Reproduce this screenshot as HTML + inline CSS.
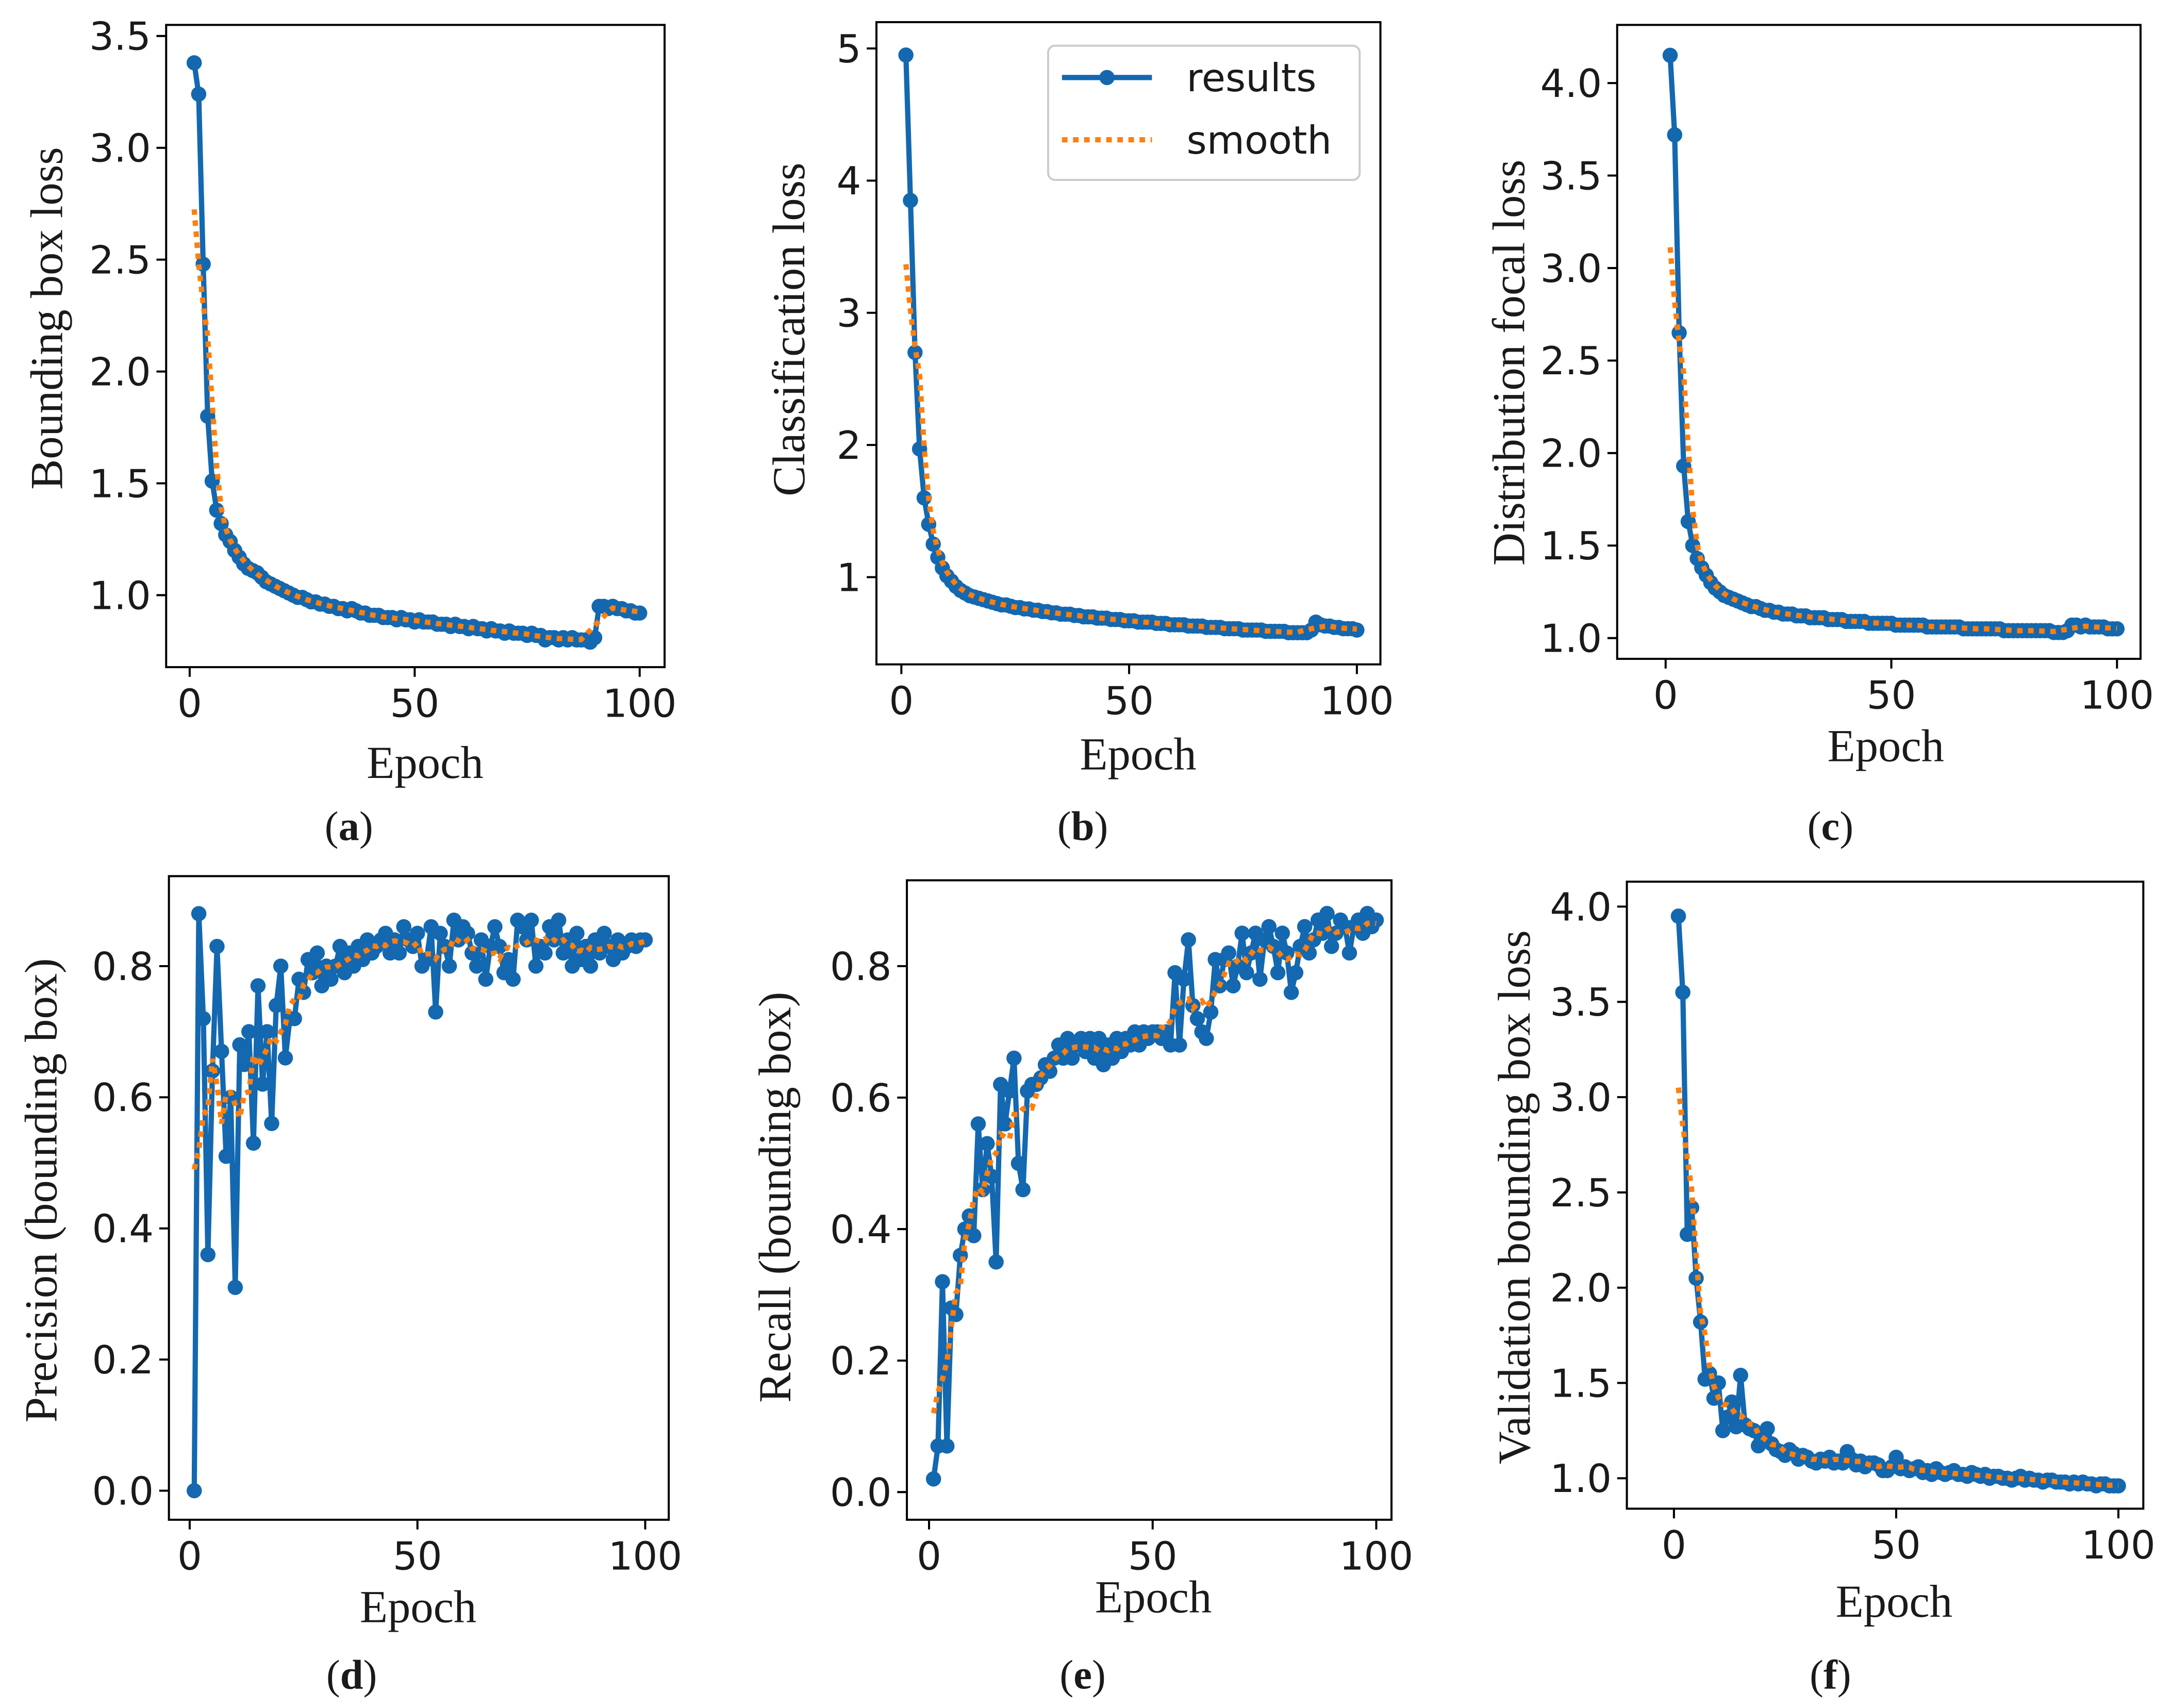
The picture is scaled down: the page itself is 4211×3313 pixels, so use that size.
<!DOCTYPE html>
<html><head><meta charset="utf-8"><style>
html,body{margin:0;padding:0;background:#fff}
svg{display:block}
.tk{font-family:"DejaVu Sans","Liberation Sans",sans-serif;font-size:28px;fill:#1a1a1a}
.al{font-family:"Liberation Serif",serif;font-size:33px;fill:#1a1a1a}
.cap{font-family:"Liberation Serif",serif;font-size:30px;fill:#1a1a1a}
</style></head><body>
<svg id="fig" width="4211" height="3313" viewBox="0 0 1568 1234" preserveAspectRatio="none" xmlns="http://www.w3.org/2000/svg"></svg>
<script>
const epochTicks=[0,50,100];
const boxLoss=[3.38,3.24,2.48,1.80,1.51,1.38,1.32,1.27,1.24,1.20,1.17,1.14,1.12,1.11,1.10,1.08,1.06,1.05,1.04,1.03,1.02,1.01,1.00,0.99,0.99,0.98,0.97,0.97,0.96,0.96,0.95,0.95,0.94,0.94,0.93,0.94,0.93,0.92,0.92,0.91,0.91,0.91,0.90,0.90,0.90,0.89,0.90,0.89,0.89,0.88,0.89,0.88,0.88,0.88,0.87,0.87,0.87,0.86,0.87,0.86,0.86,0.85,0.86,0.85,0.85,0.84,0.85,0.84,0.84,0.83,0.84,0.83,0.83,0.83,0.82,0.83,0.82,0.82,0.80,0.81,0.81,0.80,0.81,0.80,0.81,0.80,0.80,0.80,0.79,0.81,0.95,0.95,0.94,0.95,0.94,0.94,0.93,0.93,0.92,0.92];
const clsLoss=[4.95,3.85,2.70,1.97,1.60,1.40,1.25,1.15,1.07,1.01,0.97,0.93,0.90,0.88,0.86,0.85,0.84,0.83,0.82,0.81,0.80,0.79,0.79,0.78,0.77,0.77,0.76,0.76,0.75,0.75,0.74,0.74,0.73,0.73,0.72,0.72,0.72,0.71,0.71,0.70,0.70,0.70,0.69,0.69,0.69,0.68,0.68,0.68,0.67,0.67,0.67,0.66,0.66,0.66,0.66,0.65,0.65,0.65,0.64,0.64,0.64,0.64,0.63,0.63,0.63,0.63,0.62,0.62,0.62,0.62,0.61,0.61,0.61,0.61,0.60,0.60,0.60,0.60,0.60,0.59,0.59,0.59,0.59,0.59,0.58,0.58,0.58,0.58,0.58,0.60,0.66,0.64,0.63,0.63,0.62,0.62,0.61,0.61,0.61,0.60];
const dflLoss=[4.15,3.72,2.65,1.93,1.63,1.50,1.43,1.38,1.34,1.30,1.27,1.25,1.23,1.22,1.21,1.20,1.19,1.18,1.17,1.17,1.16,1.15,1.15,1.14,1.14,1.13,1.13,1.13,1.12,1.12,1.12,1.11,1.11,1.11,1.11,1.10,1.10,1.10,1.10,1.09,1.09,1.09,1.09,1.09,1.08,1.08,1.08,1.08,1.08,1.08,1.07,1.07,1.07,1.07,1.07,1.07,1.07,1.06,1.06,1.06,1.06,1.06,1.06,1.06,1.06,1.05,1.05,1.05,1.05,1.05,1.05,1.05,1.05,1.05,1.04,1.04,1.04,1.04,1.04,1.04,1.04,1.04,1.04,1.04,1.04,1.03,1.03,1.03,1.04,1.07,1.07,1.06,1.07,1.06,1.06,1.06,1.06,1.05,1.05,1.05];
const precision=[0.00,0.88,0.72,0.36,0.64,0.83,0.67,0.51,0.60,0.31,0.68,0.65,0.70,0.53,0.77,0.62,0.70,0.56,0.74,0.80,0.66,0.72,0.72,0.78,0.76,0.81,0.79,0.82,0.77,0.80,0.78,0.80,0.83,0.79,0.82,0.80,0.83,0.81,0.84,0.82,0.83,0.84,0.85,0.82,0.84,0.82,0.86,0.84,0.83,0.85,0.80,0.81,0.86,0.73,0.85,0.83,0.80,0.87,0.84,0.86,0.85,0.82,0.80,0.84,0.78,0.83,0.86,0.83,0.79,0.81,0.78,0.87,0.86,0.84,0.87,0.80,0.83,0.82,0.86,0.84,0.87,0.82,0.84,0.80,0.85,0.81,0.83,0.80,0.84,0.82,0.85,0.83,0.81,0.84,0.82,0.83,0.84,0.83,0.84,0.84];
const recall=[0.02,0.07,0.32,0.07,0.28,0.27,0.36,0.40,0.42,0.39,0.56,0.46,0.53,0.48,0.35,0.62,0.56,0.61,0.66,0.50,0.46,0.61,0.62,0.62,0.63,0.65,0.64,0.66,0.68,0.66,0.69,0.66,0.68,0.69,0.67,0.69,0.66,0.69,0.65,0.68,0.66,0.69,0.67,0.69,0.68,0.70,0.68,0.70,0.69,0.70,0.70,0.69,0.70,0.68,0.79,0.68,0.78,0.84,0.74,0.72,0.70,0.69,0.73,0.81,0.77,0.81,0.82,0.77,0.80,0.85,0.79,0.82,0.85,0.78,0.84,0.86,0.83,0.79,0.85,0.82,0.76,0.79,0.83,0.86,0.82,0.84,0.87,0.85,0.88,0.83,0.85,0.87,0.86,0.82,0.86,0.87,0.85,0.88,0.86,0.87];
const valBoxLoss=[3.95,3.55,2.28,2.42,2.05,1.82,1.52,1.55,1.42,1.50,1.25,1.32,1.40,1.27,1.54,1.28,1.26,1.25,1.17,1.22,1.26,1.18,1.15,1.14,1.12,1.15,1.13,1.10,1.12,1.11,1.09,1.08,1.10,1.09,1.11,1.08,1.09,1.08,1.14,1.10,1.07,1.09,1.06,1.08,1.08,1.07,1.04,1.04,1.06,1.11,1.05,1.06,1.04,1.05,1.06,1.03,1.04,1.02,1.05,1.03,1.02,1.03,1.04,1.02,1.02,1.01,1.03,1.02,1.01,1.02,1.00,1.01,1.01,1.00,1.00,0.99,1.00,1.01,0.99,1.00,0.99,0.99,0.98,0.99,0.99,0.98,0.98,0.98,0.97,0.98,0.97,0.98,0.97,0.97,0.96,0.97,0.97,0.96,0.96,0.96];
const ticksA=[1.0,1.5,2.0,2.5,3.0,3.5];
const ticksB=[1,2,3,4,5];
const ticksC=[1.0,1.5,2.0,2.5,3.0,3.5,4.0];
const ticksPR=[0.0,0.2,0.4,0.6,0.8];
const ticksF=[1.0,1.5,2.0,2.5,3.0,3.5,4.0];

const NS="http://www.w3.org/2000/svg";
const svg=document.getElementById('fig');
function mk(tag,attrs,parent){const e=document.createElementNS(NS,tag);for(const k in attrs)e.setAttribute(k,attrs[k]);(parent||svg).appendChild(e);return e;}
function smooth(y){const n=y.length,out=[];for(let i=0;i<n;i++){let s=0,c=0;for(let j=i-3;j<=i+3;j++){if(j>=0&&j<n){s+=y[j];c++;}}out.push(s/c);}return out;}

const panels=[
 {id:'a',data:boxLoss,ticks:ticksA,fmt:1,box:[120,18,480,482],x0:137,x100:462,yv:[1.0,3.5],yp:[430,26],ylab:'Bounding box loss',ylx:34,yly:230,elx:307,ely:562,cx:252,cy:607},
 {id:'b',data:clsLoss,ticks:ticksB,fmt:0,box:[633,16,997,480],x0:651,x100:980,yv:[1,5],yp:[417,35],ylab:'Classification loss',ylx:570,yly:238,elx:822,ely:556,cx:782,cy:607,legend:true},
 {id:'c',data:dflLoss,ticks:ticksC,fmt:1,box:[1168,18,1546,476],x0:1203,x100:1529,yv:[1.0,4.0],yp:[461,60],ylab:'Distribution focal loss',ylx:1090,yly:262,elx:1362,ely:550,cx:1322,cy:607},
 {id:'d',data:precision,ticks:ticksPR,fmt:1,box:[122,633,483,1098],x0:137,x100:466,yv:[0,0.8],yp:[1077,698],ylab:'Precision (bounding box)',ylx:30,yly:860,elx:302,ely:1172,cx:254,cy:1220},
 {id:'e',data:recall,ticks:ticksPR,fmt:1,box:[655,636,1005,1098],x0:671,x100:994,yv:[0,0.8],yp:[1078,698],ylab:'Recall (bounding box)',ylx:560,yly:865,elx:833,ely:1165,cx:782,cy:1220},
 {id:'f',data:valBoxLoss,ticks:ticksF,fmt:1,box:[1175,637,1548,1090],x0:1209,x100:1530,yv:[1.0,4.0],yp:[1068,655],ylab:'Validation bounding box loss',ylx:1094,yly:865,elx:1368,ely:1168,cx:1322,cy:1220}
];
const BLUE='#1368b0',ORANGE='#ff7f0e';
panels.forEach(p=>{
 const g=mk('g',{});
 
 
 const xs=v=>p.x0+(p.x100-p.x0)*v/100;
 const ys=v=>p.yp[0]+(p.yp[1]-p.yp[0])*(v-p.yv[0])/(p.yv[1]-p.yv[0]);
 const [L,T,R,B]=p.box;
 epochTicks.forEach(t=>{
  const x=xs(t);
  const l=mk('line',{x1:x,y1:B,x2:x,y2:B+7,stroke:'#000','stroke-width':1.5},g);
  
  
  const tx=mk('text',{x:x,y:B+36,'text-anchor':'middle',class:'tk'},g);tx.textContent=t;
  
  
 });
 p.ticks.forEach(t=>{
  const y=ys(t);
  const l=mk('line',{x1:L-7,y1:y,x2:L,y2:y,stroke:'#000','stroke-width':1.5},g);
  
  
  const tx=mk('text',{x:L-11,y:y+10,'text-anchor':'end',class:'tk'},g);tx.textContent=t.toFixed(p.fmt);
  
  
 });
 const ptsR=p.data.map((v,i)=>xs(i+1).toFixed(2)+','+ys(v).toFixed(2)).join(' ');
 const line=mk('polyline',{points:ptsR,fill:'none',stroke:BLUE,'stroke-width':3.8,'stroke-linejoin':'round'},g);
 
 
 p.data.forEach((v,i)=>{
  const c=mk('circle',{cx:xs(i+1),cy:ys(v),r:5.5,fill:BLUE},g);
  
  
 });
 const sm=smooth(p.data);
 const ptsS=sm.map((v,i)=>xs(i+1).toFixed(2)+','+ys(v).toFixed(2)).join(' ');
 const sl=mk('polyline',{points:ptsS,fill:'none',stroke:ORANGE,'stroke-width':3.8,'stroke-dasharray':'4,4'},g);
 
 
 const frame=mk('rect',{x:L,y:T,width:R-L,height:B-T,fill:'none',stroke:'#000','stroke-width':1.5},g);
 
 
 const yl=mk('text',{x:p.ylx,y:p.yly,'text-anchor':'middle',class:'al',transform:`rotate(-90 ${p.ylx} ${p.yly})`,'dominant-baseline':'central'},g);yl.textContent=p.ylab;
 
 
 const xl=mk('text',{x:p.elx,y:p.ely,'text-anchor':'middle',class:'al'},g);xl.textContent='Epoch';
 
 
 const cp=mk('text',{x:p.cx,y:p.cy,'text-anchor':'middle',class:'cap'},g);
 cp.innerHTML='(<tspan font-weight="bold">'+p.id+'</tspan>)';
 
 
 if(p.legend){
  const lg=mk('g',{},g);
  
  
  mk('rect',{x:757,y:33,width:225,height:97,rx:5,fill:'#fff',stroke:'#ccc','stroke-width':1.5},lg);
  mk('line',{x1:767,y1:56,x2:832,y2:56,stroke:BLUE,'stroke-width':3.8},lg);
  mk('circle',{cx:799.5,cy:56,r:5.5,fill:BLUE},lg);
  const t1=mk('text',{x:857,y:66,class:'tk'},lg);t1.textContent='results';
  
  
  mk('line',{x1:767,y1:101,x2:832,y2:101,stroke:ORANGE,'stroke-width':3.8,'stroke-dasharray':'4,4'},lg);
  const t2=mk('text',{x:857,y:111,class:'tk'},lg);t2.textContent='smooth';
  
  
 }
});
</script>
</body></html>
